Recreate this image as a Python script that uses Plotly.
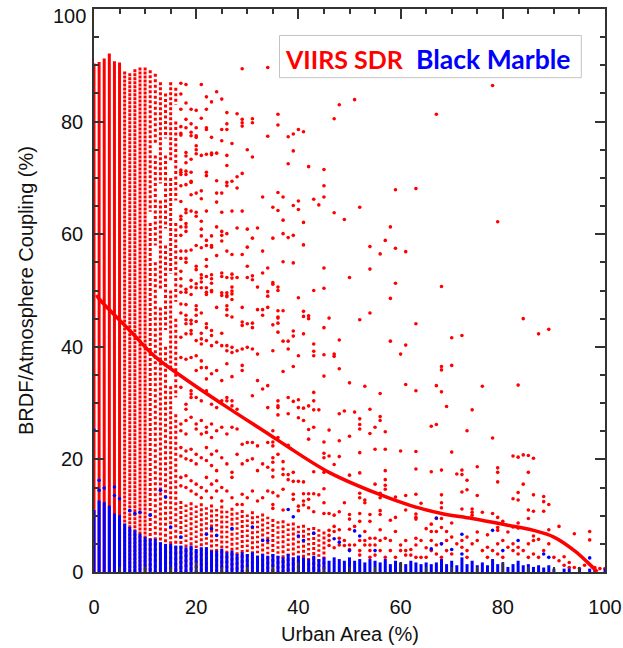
import plotly.graph_objects as go

# ---------------- DATA ----------------
# Dense red columns drawn as solid column extents (x = urban area %, top = coupling %)
red_solid_x = [0, 1, 2, 3, 4, 5]
red_solid_top = [90.3, 90.6, 91.2, 92.1, 90.7, 90.5]
# Nearly continuous dotted red columns
red_dense_x = [6, 7, 8, 9, 10]
red_dense_top = [88.9, 88.6, 89.3, 89.6, 89.6]
# Broken dotted red columns (x, bottom, top)
red_broken_x = [11, 11, 12, 12, 12, 13, 13, 13, 14, 14, 14, 14,
                15, 15, 15, 15, 16, 16, 16, 16, 16]
red_broken_y0 = [0, 64, 0, 58, 76, 0, 50, 69, 0, 43, 61, 77,
                 0, 36, 53, 73, 0, 31, 48, 66, 83]
red_broken_y1 = [62, 89.1, 55, 74, 88.5, 47, 66, 87.0, 40, 58, 74, 85.0,
                 33, 50, 70, 87.0, 28, 45, 62, 80, 86.0]
# Low band of dotted red columns
red_band_x = list(range(17, 46))
red_band_top = [12.6, 12.0, 12.4, 11.8, 12.2, 11.5, 12.0, 11.2, 11.8, 10.9,
                11.4, 10.6, 11.0, 10.2, 10.8, 10.0, 10.4, 9.8, 9.4, 9.0,
                9.2, 8.6, 8.8, 8.2, 8.4, 7.8, 8.0, 7.6, 7.2]

# Individual red points, grouped by column
red_pt_cols = list(range(17, 101))
red_pt_vals = [
    [86.8, 84.9, 82.2, 79.1, 77.9, 77.6, 71.4, 71.0, 70.6, 68.6, 65.8, 63.2, 62.6, 61.3, 59.8, 57.0, 55.7, 53.4, 52.1, 50.8, 49.7, 47.6, 46.0, 41.7, 38.1, 32.8, 26.3, 25.1, 22.1, 20.6, 16.8, 15.3],
    [86.6, 83.3, 80.4, 78.9, 74.5, 73.9, 72.7, 71.2, 70.6, 68.8, 64.4, 63.8, 61.9, 61.3, 60.5, 57.0, 55.7, 55.0, 50.2, 49.7, 47.5, 45.6, 44.8, 44.1, 42.3, 37.8, 29.8, 28.9, 26.9, 24.5, 21.5, 20.1, 17.1, 15.0],
    [82.2, 79.6, 78.1, 77.5, 73.3, 71.0, 69.4, 69.2, 67.0, 64.1, 57.2, 51.8, 50.6, 49.3, 44.7, 44.1, 42.9, 42.3, 38.1, 32.2, 31.6, 31.0, 27.5, 21.8, 19.8, 16.2, 14.4],
    [82.0, 78.9, 77.5, 77.2, 75.7, 75.0, 74.3, 67.3, 63.9, 63.2, 58.0, 54.3, 53.7, 51.2, 50.5, 47.3, 46.6, 45.6, 44.5, 41.1, 38.4, 35.8, 31.0, 26.3, 25.4, 20.9, 19.2, 15.6, 13.8],
    [86.6, 80.6, 74.0, 67.7, 66.3, 62.3, 60.9, 59.7, 57.6, 52.8, 52.2, 51.5, 50.5, 46.0, 42.4, 41.4, 40.5, 37.5, 36.3, 30.4, 26.9, 24.5, 20.3, 15.0, 13.2],
    [84.4, 82.2, 78.9, 78.6, 74.2, 71.0, 70.4, 64.1, 58.9, 58.0, 55.5, 54.3, 52.5, 50.5, 49.7, 49.3, 44.1, 43.4, 41.1, 36.3, 34.3, 32.2, 25.7, 24.8, 22.1, 19.8, 16.8, 14.4],
    [83.5, 77.2, 74.4, 74.1, 59.7, 58.0, 57.7, 52.8, 52.1, 51.3, 50.0, 49.8, 42.9, 42.0, 40.2, 35.2, 29.8, 26.3, 23.9, 20.9, 18.9, 15.6, 13.2],
    [85.3, 74.4, 69.5, 67.3, 65.7, 61.3, 56.2, 47.0, 40.8, 35.8, 29.2, 25.1, 21.5, 18.0, 16.2, 14.4],
    [84.0, 78.6, 76.6, 67.3, 63.9, 60.5, 59.8, 58.8, 53.1, 52.5, 49.6, 49.1, 42.4, 40.2, 34.0, 30.4, 25.7, 20.3, 15.0, 12.6],
    [81.6, 79.6, 78.6, 74.0, 72.2, 69.2, 68.6, 60.1, 57.0, 52.3, 49.6, 49.1, 48.9, 47.3, 46.6, 45.6, 40.2, 39.3, 37.0, 31.0, 30.4, 24.5, 19.2, 14.4],
    [76.1, 69.4, 64.1, 56.4, 52.9, 52.2, 50.6, 49.9, 49.4, 48.4, 45.3, 39.9, 39.0, 34.7, 30.4, 29.5, 25.7, 17.7, 16.8, 13.2],
    [81.4, 70.2, 68.2, 61.1, 52.3, 39.3, 28.9, 25.4, 20.9, 12.0],
    [89.4, 80.4, 79.8, 79.2, 70.8, 64.1, 56.4, 47.0, 44.4, 43.8, 39.6, 36.7, 35.8, 22.7, 19.2, 13.8, 12.0],
    [75.0, 60.9, 57.7, 54.3, 52.3, 44.1, 39.9, 23.0, 19.8, 13.2],
    [80.5, 79.8, 73.7, 59.3, 52.6, 51.9, 44.2, 43.4, 39.6, 31.3, 23.0, 20.1, 14.4],
    [61.1, 50.6, 46.6, 38.7, 34.0, 22.4, 18.0, 12.6],
    [66.6, 57.0, 53.1, 46.6, 45.6, 32.5, 19.2, 13.2],
    [89.6, 77.4, 54.0, 49.8, 49.0, 47.0, 33.1, 29.2, 23.0, 18.6, 14.4],
    [64.8, 59.3, 51.4, 51.1, 43.9, 39.3, 25.1, 23.1, 22.4, 20.3, 19.5, 18.1, 16.9, 14.1, 12.0, 11.3],
    [81.3, 79.4, 67.4, 64.2, 50.6, 50.0, 46.4, 45.3, 45.1, 44.2, 42.6, 30.4, 29.5, 29.2, 27.9, 23.9, 20.9, 13.5],
    [66.6, 62.5, 60.1, 55.1, 46.4, 41.0, 35.6, 19.6, 18.3, 17.3, 14.7, 11.0],
    [77.3, 72.5, 59.4, 41.0, 39.6, 31.0, 28.1, 22.5, 17.3, 16.4],
    [77.8, 74.8, 65.1, 59.8, 54.9, 42.8, 41.9, 36.5, 30.3, 17.7, 16.1, 13.8, 12.9],
    [78.6, 65.9, 64.4, 48.7, 38.4, 30.6, 29.2, 27.4, 16.1, 11.7, 10.9],
    [78.2, 62.1, 58.1, 46.3, 45.4, 42.3, 29.1, 26.9, 16.0, 13.9, 12.6, 11.9],
    [72.0, 45.5, 45.0, 29.5, 25.3, 23.6, 13.9, 12.9, 11.4],
    [66.2, 50.0, 40.5, 39.2, 38.4, 31.9, 30.4, 28.8, 25.7, 17.8, 13.9, 10.7],
    [65.2, 28.8, 13.7],
    [71.5, 68.6, 66.6, 54.0, 50.4, 43.4, 38.6, 34.8, 23.1, 21.1, 20.3, 17.7, 14.8, 12.3, 10.4],
    [45.1, 25.2, 20.6, 10.4, 7.4, 6.5, 5.6, 4.7],
    [80.5, 63.8, 38.7, 38.3, 19.1, 10.1, 8.1, 7.2, 4.3],
    [83.0, 41.2, 36.1, 28.1, 23.3, 20.5, 10.7, 7.5, 6.0, 4.8],
    [62.6, 28.6, 12.3, 5.6, 4.7],
    [52.3, 33.6, 24.1, 17.2, 10.2, 9.4, 7.6, 4.8, 4.0],
    [83.9, 28.4, 8.1, 4.8],
    [64.8, 44.8, 27.2, 26.2, 25.4, 21.2, 17.6, 14.0, 13.2, 10.4, 9.0, 5.6, 3.8, 3.0],
    [33.0, 12.8, 12.3, 7.2, 5.6, 4.8],
    [57.8, 53.8, 46.0, 28.9, 24.6, 10.2, 9.0, 6.0, 4.8, 3.8, 2.6],
    [25.7, 21.8, 15.6, 6.0, 4.8, 3.0],
    [56.5, 31.7, 27.6, 26.9, 14.0, 13.2, 10.9, 10.2, 7.5, 5.6, 3.8],
    [58.9, 24.9, 21.8, 18.0, 16.4, 15.4, 14.7, 6.0, 2.6],
    [61.3, 48.6, 41.0, 9.2, 5.6, 3.8],
    [67.9, 57.5, 51.3, 13.3, 9.7, 7.2, 2.6],
    [38.7, 21.5, 4.8, 3.8],
    [56.9, 40.3, 33.3, 13.6, 11.0, 5.6, 3.8, 3.0],
    [4.0, 3.0],
    [68.1, 44.1, 32.2, 21.4, 18.3, 13.8, 10.3, 9.7, 9.4, 6.0, 4.8, 2.6],
    [12.2, 5.6, 2.6],
    [7.7, 4.3, 2.6],
    [25.9, 17.8, 8.5, 7.2, 5.6, 3.8],
    [81.3, 33.1, 26.2, 9.5, 7.2, 4.8, 3.2],
    [50.7, 36.5, 35.9, 32.0, 18.1, 13.7, 12.3, 11.4, 9.5, 7.9, 5.0, 2.6],
    [29.4, 7.2, 5.6, 3.8],
    [41.6, 36.7, 21.3, 8.7, 6.2, 3.2],
    [17.4, 5.0],
    [42.0, 18.1, 17.3, 14.2, 11.2, 5.6, 4.4],
    [25.1, 16.3, 14.6, 6.2, 3.8, 2.6],
    [28.8, 11.2, 10.6, 10.1, 5.0],
    [18.7, 13.6, 7.1, 5.6],
    [33.0, 10.6, 3.8],
    [6.6, 4.4, 2.6],
    [86.4, 23.8, 10.4, 3.8],
    [62.2, 18.5, 17.7, 16.0, 9.7, 7.9, 7.4, 5.0, 3.2],
    [9.0, 5.6, 2.6],
    [7.1, 4.4],
    [20.6, 13.0, 8.0, 5.0, 3.8],
    [33.2, 20.4, 14.1, 12.8, 8.7, 7.8, 4.4, 3.2],
    [45.0, 20.8, 15.6, 3.8],
    [20.7, 17.7, 11.0, 9.5, 5.0, 2.6],
    [20.2, 13.7, 10.8, 6.4, 5.6, 3.2],
    [42.3, 5.8, 2.6],
    [13.4, 12.5, 10.8, 3.8],
    [43.1, 12.0, 7.5, 5.0],
    [2.6],
    [8.1, 2.0],
    [2.7, 1.2],
    [1.7, 0.8],
    [6.8, 0.8],
    [0.6],
    [1.2],
    [7.2, 5.7],
    [0.8],
    [0.6],
    [0.6],
]

# Blue (Black Marble) dense columns: x and top of the solid part
blue_col_x = list(range(0, 68)) + [68, 69, 70, 71, 72, 73, 74, 75, 76, 77, 78, 79,
                                   80, 81, 82, 83, 84, 85, 86, 87, 88, 89, 90, 92,
                                   93, 95, 97, 98, 100]
blue_col_top = [11.0, 12.7, 12.4, 11.8, 10.4, 10.1, 8.6, 8.0, 7.4, 6.8,
                6.2, 5.9, 5.9, 5.3, 5.0, 5.0, 4.7, 4.7, 4.4, 4.7,
                4.1, 4.4, 4.4, 3.8, 3.8, 4.1, 3.5, 3.8, 3.2, 3.5,
                3.2, 3.5, 2.9, 3.2, 2.9, 3.2, 2.9, 2.6, 3.2, 2.6,
                2.9, 2.6, 2.3, 2.9, 2.3, 2.6, 2.0, 2.6, 2.3, 2.0,
                2.6, 2.0, 2.3, 1.7, 2.3, 2.0, 1.7, 2.3, 1.4, 2.0,
                1.7, 1.4, 2.0, 1.7, 1.4, 1.7, 1.4, 1.7,
                2.3, 1.4, 2.0, 1.2, 2.6, 1.4, 2.0, 1.2, 1.7, 1.2, 2.3, 1.4,
                1.7, 0.9, 1.4, 2.0, 1.2, 1.4, 0.9, 1.2, 0.8, 1.2, 0.6, 0.6,
                0.6, 0.6, 0.6, 0.6, 0.6]
# Scattered blue points
blue_pt_x = [0, 1, 1, 2, 4, 4, 5, 7, 8, 9, 11, 13, 14, 15, 17, 22, 23, 24, 27,
             31, 33, 34, 38, 39, 40, 41, 43, 47, 48, 50, 51, 52, 55, 66, 67,
             68, 70, 72, 72, 78, 80, 83, 88, 89, 97]
blue_pt_y = [25.2, 16.3, 14.5, 14.9, 15.1, 13.6, 13.0, 10.9, 10.4, 10.6, 10.1,
             14.5, 13.3, 8.0, 6.2, 6.7, 7.7, 6.5, 7.7, 8.0, 5.6, 5.6, 11.1,
             9.8, 6.4, 5.6, 6.9, 5.9, 5.3, 3.8, 7.3, 6.4, 3.8, 4.1, 9.6,
             5.0, 4.0, 6.7, 3.2, 7.4, 3.8, 5.6, 3.2, 2.6, 2.5]

# Red fitted curve
fit_x = [0.5, 1, 7, 12, 18, 25.5, 34.5, 37.5, 46, 55.5, 62, 68, 74, 81, 86, 90, 94, 96.5, 98.5]
fit_y = [49.2, 48.5, 42.9, 38.2, 34.2, 29.6, 24.3, 22.5, 17.7, 13.9, 11.8, 10.4, 9.5, 8.3, 7.4, 6.2, 3.8, 1.8, 0.0]

x_ticks = [0, 20, 40, 60, 80, 100]
y_ticks = [0, 20, 40, 60, 80, 100]

RED = "#ff0000"
BLUE = "#0000ff"
TICK_FONT = dict(family="Liberation Sans, Arial, sans-serif", size=20, color="#111111")


def seg_xy(xs, y0s, y1s):
    # columns are drawn from their top downwards
    sx, sy = [], []
    for x, a, b in zip(xs, y0s, y1s):
        sx += [x, x, None]
        sy += [b, a, None]
    return sx, sy


fig = go.Figure()

# red dotted low band (two dash rhythms so rows do not line up)
for k, dash in enumerate(["3px,2px", "2.5px,2.5px"]):
    xs = red_band_x[k::2]
    tops = red_band_top[k::2]
    sx, sy = seg_xy(xs, [0] * len(xs), tops)
    fig.add_trace(go.Scatter(x=sx, y=sy, mode="lines",
                             line=dict(color=RED, width=3, dash=dash),
                             hoverinfo="skip", showlegend=False))
# red broken dotted columns
for k, dash in enumerate(["3px,2.5px", "3px,2px"]):
    idx = [i for i, x in enumerate(red_broken_x) if x % 2 == k]
    sx, sy = seg_xy([red_broken_x[i] for i in idx], [red_broken_y0[i] for i in idx],
                    [red_broken_y1[i] for i in idx])
    fig.add_trace(go.Scatter(x=sx, y=sy, mode="lines",
                             line=dict(color=RED, width=3, dash=dash),
                             hoverinfo="skip", showlegend=False))
# red dense dotted columns
sx, sy = seg_xy(red_dense_x, [0] * len(red_dense_x), red_dense_top)
fig.add_trace(go.Scatter(x=sx, y=sy, mode="lines",
                         line=dict(color=RED, width=3, dash="3px,1px"),
                         hoverinfo="skip", showlegend=False))
# red solid columns
sx, sy = seg_xy(red_solid_x, [0] * len(red_solid_x), red_solid_top)
fig.add_trace(go.Scatter(x=sx, y=sy, mode="lines",
                         line=dict(color=RED, width=3),
                         hoverinfo="skip", showlegend=False))
# red individual points
px, py = [], []
for c, vals in zip(red_pt_cols, red_pt_vals):
    px += [c] * len(vals)
    py += vals
fig.add_trace(go.Scatter(x=px, y=py, mode="markers",
                         marker=dict(color=RED, size=3.6, line=dict(width=0)),
                         hoverinfo="skip", showlegend=False))
# blue columns
sx, sy = seg_xy(blue_col_x, [0] * len(blue_col_x), blue_col_top)
fig.add_trace(go.Scatter(x=sx, y=sy, mode="lines",
                         line=dict(color=BLUE, width=3),
                         hoverinfo="skip", showlegend=False))
# blue points
fig.add_trace(go.Scatter(x=blue_pt_x, y=blue_pt_y, mode="markers",
                         marker=dict(color=BLUE, size=3.6, line=dict(width=0)),
                         hoverinfo="skip", showlegend=False))
# fitted curve
fig.add_trace(go.Scatter(x=fit_x, y=fit_y, mode="lines",
                         line=dict(color=RED, width=3.5, shape="spline", smoothing=1.0),
                         hoverinfo="skip", showlegend=False))

axis_common = dict(
    range=[0, 100], showgrid=False, zeroline=False, automargin=False,
    showline=True, linecolor="#333333", linewidth=1.5, mirror="allticks",
    ticks="inside", ticklen=10, tickwidth=1.5, tickcolor="#333333",
    tickfont=TICK_FONT,
    minor=dict(dtick=5, ticks="inside", ticklen=5, tickwidth=1.5, tickcolor="#333333", showgrid=False),
)

# the top y label sits a little below its tick (kept inside the page), as in the original
y_ticktext = [str(v) if v != 100 else "" for v in y_ticks]

fig.update_layout(
    width=623, height=648,
    margin=dict(l=94, r=18, t=9, b=76),
    paper_bgcolor="white", plot_bgcolor="white",
    xaxis=dict(**axis_common, tickmode="array", tickvals=x_ticks,
               ticktext=[str(v) for v in x_ticks], ticklabelstandoff=16,
               ticklabeloverflow="allow"),
    yaxis=dict(**axis_common, tickmode="array", tickvals=y_ticks,
               ticktext=y_ticktext, ticklabelstandoff=5),
    shapes=[dict(type="rect", xref="paper", yref="paper",
                 x0=0.363, x1=0.9536, y0=0.878, y1=0.953,
                 line=dict(color="#c4c4c4", width=1), fillcolor="white", layer="above")],
    annotations=[
        dict(text=str(y_ticks[-1]), xref="paper", yref="y", x=0, y=y_ticks[-1],
             xanchor="right", yanchor="middle", xshift=-6, yshift=-7,
             showarrow=False, font=TICK_FONT),
        dict(text="VIIRS SDR", xref="paper", yref="paper", x=0.491, y=0.912,
             showarrow=False, xanchor="center", yanchor="middle",
             font=dict(family="Lato, sans-serif", size=25, color=RED, weight="bold")),
        dict(text="Black Marble", xref="paper", yref="paper", x=0.781, y=0.912,
             showarrow=False, xanchor="center", yanchor="middle",
             font=dict(family="Lato, sans-serif", size=26.5, color=BLUE, weight="bold")),
        dict(text="Urban Area (%)", xref="paper", yref="paper", x=0.5, y=-0.111,
             showarrow=False, xanchor="center", yanchor="middle",
             font=dict(family="Liberation Sans, Arial, sans-serif", size=20, color="#111111")),
        dict(text="BRDF/Atmosphere Coupling (%)", xref="paper", yref="paper", x=-0.134, y=0.5,
             showarrow=False, xanchor="center", yanchor="middle", textangle=-90,
             font=dict(family="Liberation Sans, Arial, sans-serif", size=20, color="#111111")),
    ],
)

fig.write_html("out.html")
